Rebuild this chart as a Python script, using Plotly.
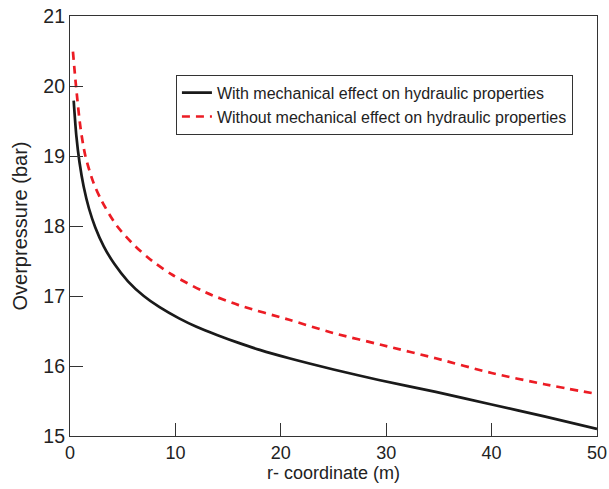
import plotly.graph_objects as go

# r-coordinate (m) and overpressure (bar)
r_with = [0.35, 0.6, 0.9, 1.3, 1.8, 2.4, 3.2, 4.2, 5.5, 7.0, 8.5, 10.35, 12, 14, 16, 18, 20.8, 25, 29.3, 34.7, 40, 45, 50]
p_with = [19.79, 19.29, 18.91, 18.56, 18.25, 17.98, 17.71, 17.46, 17.21, 17.0, 16.84, 16.68, 16.56, 16.44, 16.33, 16.23, 16.11, 15.95, 15.8, 15.63, 15.45, 15.28, 15.1]

r_without = [0.28, 0.57, 1.0, 1.46, 2.2, 3.0, 4.46, 6.2, 7.8, 9.74, 12.9, 16, 20.8, 25, 29.6, 34.7, 40, 45, 50]
p_without = [20.49, 20.0, 19.4, 19.0, 18.63, 18.36, 18.0, 17.71, 17.5, 17.3, 17.05, 16.87, 16.66, 16.47, 16.3, 16.11, 15.9, 15.74, 15.6]

x_ticks = [0, 10, 20, 30, 40, 50]
y_ticks = [15, 16, 17, 18, 19, 20, 21]

names = ["With mechanical effect on hydraulic properties",
         "Without mechanical effect on hydraulic properties"]

FONT = "Liberation Sans, Arial, Helvetica, sans-serif"

fig = go.Figure()
fig.add_trace(go.Scatter(x=r_with, y=p_with, mode="lines", name=names[0],
                         line=dict(color="#1a1a1a", width=2.7, shape="spline", smoothing=0.8)))
fig.add_trace(go.Scatter(x=r_without, y=p_without, mode="lines", name=names[1],
                         line=dict(color="#ec1c24", width=2.7, dash="8px,6px", shape="spline", smoothing=0.8)))

axis_common = dict(
    showline=True, linecolor="#333333", linewidth=1.2, mirror=True,
    ticks="inside", ticklen=13, tickwidth=1.2, tickcolor="#333333",
    showgrid=False, zeroline=False, automargin=False,
)

fig.update_layout(
    width=609, height=489,
    margin=dict(l=70, r=12, t=16, b=53),
    paper_bgcolor="white", plot_bgcolor="white",
    font=dict(family=FONT, color="#222222"),
    showlegend=True,
    legend=dict(
        x=0.201, y=0.86, xanchor="left", yanchor="top",
        bgcolor="white", bordercolor="#333333", borderwidth=1,
        font=dict(family=FONT, size=16, color="#222222"),
        tracegroupgap=0, itemwidth=30,
    ),
    xaxis=dict(range=[0, 50], tickvals=x_ticks,
               tickfont=dict(family=FONT, size=18, color="#222222"),
               title=dict(text="r- coordinate (m)", font=dict(family=FONT, size=18, color="#222222"), standoff=4),
               **axis_common),
    yaxis=dict(range=[15, 21], tickvals=y_ticks,
               tickfont=dict(family=FONT, size=19.5, color="#222222"),
               title=dict(text="Overpressure (bar)", font=dict(family=FONT, size=20, color="#222222"), standoff=10),
               **axis_common),
)

fig.write_html("out.html", config={"displayModeBar": False},
               post_script="document.body.style.margin='0';")
